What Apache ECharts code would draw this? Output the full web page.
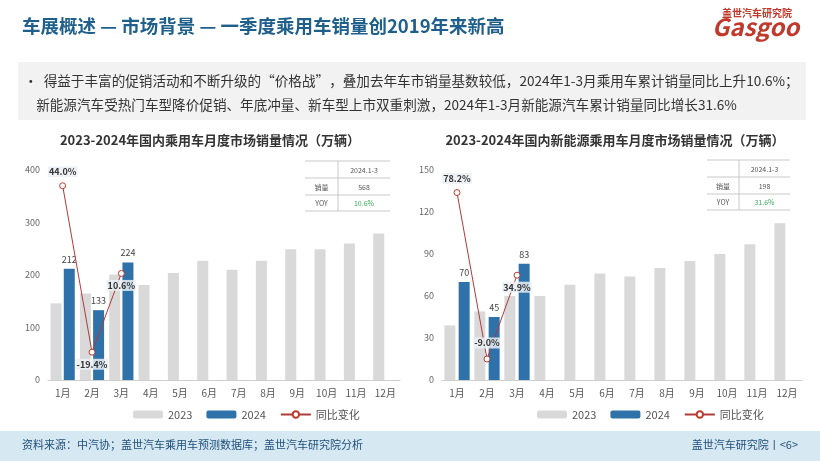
<!DOCTYPE html>
<html><head><meta charset="utf-8">
<script src="https://cdn.jsdelivr.net/npm/echarts@6/dist/echarts.min.js"></script>
<style>html,body{margin:0;padding:0;background:#fff}#c{width:820px;height:461px}</style>
</head><body><div id="c"></div>
<script>
const months = ['1月','2月','3月','4月','5月','6月','7月','8月','9月','10月','11月','12月'];
const pv2023 = [146,165,201,181,204,227,210,227,249,249,260,279];
const pv2024 = [212,133,224];
const pvYoy = [44.0,-19.4,10.6];
const nev2023 = [39,49,60,60,68,76,74,80,85,90,97,112];
const nev2024 = [70,45,83];
const nevYoy = [78.2,-9.0,34.9];
const leftTicks = [0,100,200,300,400];
const rightTicks = [0,30,60,90,120,150];

const F = '"Noto Sans CJK SC","Noto Sans",sans-serif';
const chart = echarts.init(document.getElementById('c'));
function yoyLabel(pos){return {show:true,formatter:p=>p.value.toFixed(1)+'%',fontSize:9,fontWeight:'bold',color:'#333',backgroundColor:'rgba(235,240,245,0.85)',position:pos,padding:[1,1]};}
function table(x0,xd,x1,y0,sales,yoy){
  const ys=[y0,y0+17,y0+34,y0+50];
  const els=[];
  ys.forEach(y=>els.push({type:'line',shape:{x1:x0,y1:y,x2:x1,y2:y},style:{stroke:'#bbb',lineWidth:0.8}}));
  els.push({type:'line',shape:{x1:xd,y1:y0,x2:xd,y2:ys[3]},style:{stroke:'#bbb',lineWidth:0.8}});
  const cx=(xd+x1)/2, lx=(x0+xd)/2;
  const t=(x,y,s,c)=>({type:'text',x:x,y:y,style:{text:s,fill:c||'#555',fontSize:7,fontFamily:F,align:'center',verticalAlign:'middle'}});
  els.push(t(cx,y0+9,'2024.1-3'),t(lx,y0+26,'销量'),t(cx,y0+26,sales),t(lx,y0+42,'YOY'),t(cx,y0+42,yoy,'#3aaa5a'));
  return els;
}
const legendStyle = {top:404,itemWidth:30,itemHeight:8,itemGap:14,textStyle:{fontSize:11,color:'#555'},data:['2023','2024','同比变化']};
const opt = {
  animation:false,
  textStyle:{fontFamily:F},
  grid:[{left:48,top:170,width:352,height:210},{left:442,top:170,width:360,height:210}],
  legend:[Object.assign({left:128},legendStyle),Object.assign({left:532},legendStyle)],
  xAxis:[0,1].map(i=>({type:'category',gridIndex:i,data:months,axisTick:{show:false},axisLine:{lineStyle:{color:'#d0d0d0'}},axisLabel:{color:'#555',fontSize:10,margin:8}})),
  yAxis:[
    {type:'value',gridIndex:0,min:0,max:400,interval:100,splitLine:{show:false},axisLabel:{color:'#666',fontSize:9}},
    {type:'value',gridIndex:0,min:-30,max:50,show:false,splitLine:{show:false}},
    {type:'value',gridIndex:1,min:0,max:150,interval:30,splitLine:{show:false},axisLabel:{color:'#666',fontSize:9}},
    {type:'value',gridIndex:1,min:-20,max:90,show:false,splitLine:{show:false}}
  ],
  series:[
    {name:'2023',type:'bar',xAxisIndex:0,yAxisIndex:0,data:pv2023,barWidth:11,barGap:'20%',itemStyle:{color:'#d9d9d9'}},
    {name:'2024',type:'bar',xAxisIndex:0,yAxisIndex:0,data:pv2024,barWidth:11,itemStyle:{color:'#2f72aa'},label:{show:true,position:'top',fontSize:9,color:'#444'}},
    {name:'同比变化',type:'line',xAxisIndex:0,yAxisIndex:1,data:pvYoy,symbol:'circle',symbolSize:6,itemStyle:{color:'#fff',borderColor:'#c0392b',borderWidth:1},lineStyle:{color:'#b03a3a',width:1},z:5,
      label:yoyLabel('top'),labelLayout:p=>p.dataIndex>0?{dy:p.dataIndex===1?26:26}:{}},
    {name:'2023',type:'bar',xAxisIndex:1,yAxisIndex:2,data:nev2023,barWidth:11,barGap:'30%',itemStyle:{color:'#d9d9d9'}},
    {name:'2024',type:'bar',xAxisIndex:1,yAxisIndex:2,data:nev2024,barWidth:11,itemStyle:{color:'#2f72aa'},label:{show:true,position:'top',fontSize:9,color:'#444'}},
    {name:'同比变化',type:'line',xAxisIndex:1,yAxisIndex:3,data:nevYoy,symbol:'circle',symbolSize:6,itemStyle:{color:'#fff',borderColor:'#c0392b',borderWidth:1},lineStyle:{color:'#b03a3a',width:1},z:5,
      label:yoyLabel('top'),labelLayout:p=>p.dataIndex===1?{dy:-2}:(p.dataIndex===2?{dy:26}:{})}
  ],
  graphic:[
    {type:'text',left:22,top:17,style:{text:'车展概述 — 市场背景 — 一季度乘用车销量创2019年来新高',fill:'#1f5f8b',fontSize:18.5,fontWeight:'bold',fontFamily:F}},
    {type:'text',left:722,top:8,style:{text:'盖世汽车研究院',fill:'#c0392b',fontSize:10,fontWeight:'bold',fontFamily:F}},
    {type:'text',left:712,top:15,style:{text:'Gasgoo',fill:'#c0392b',fontSize:24,fontStyle:'italic',fontWeight:'bold',fontFamily:F}},
    {type:'rect',shape:{x:18,y:62,width:788,height:58},style:{fill:'#f2f2f2'}},
    {type:'text',left:24,top:69,style:{text:'•  得益于丰富的促销活动和不断升级的“价格战”，叠加去年车市销量基数较低，2024年1-3月乘用车累计销量同比上升10.6%；\n    新能源汽车受热门车型降价促销、年底冲量、新车型上市双重刺激，2024年1-3月新能源汽车累计销量同比增长31.6%',fill:'#333',fontSize:13.6,lineHeight:24,fontFamily:F}},
    {type:'text',x:210,y:140,style:{text:'2023-2024年国内乘用车月度市场销量情况（万辆）',fill:'#333',fontSize:13,fontWeight:'bold',fontFamily:F,align:'center',verticalAlign:'middle'}},
    {type:'text',x:615,y:140,style:{text:'2023-2024年国内新能源乘用车月度市场销量情况（万辆）',fill:'#333',fontSize:13,fontWeight:'bold',fontFamily:F,align:'center',verticalAlign:'middle'}},
    ...table(305,338,390,161,'568','10.6%'),
    ...table(707,739,790,160,'198','31.6%'),
    {type:'rect',shape:{x:0,y:431,width:820,height:30},style:{fill:'#d6e8f2'}},
    {type:'text',left:22,top:439,style:{text:'资料来源：中汽协；盖世汽车乘用车预测数据库；盖世汽车研究院分析',fill:'#1f4f7a',fontSize:11,fontFamily:F}},
    {type:'text',right:22,top:439,style:{text:'盖世汽车研究院丨<6>',fill:'#1f4f7a',fontSize:11,fontFamily:F}}
  ]
};
chart.setOption(opt);
</script></body></html>
